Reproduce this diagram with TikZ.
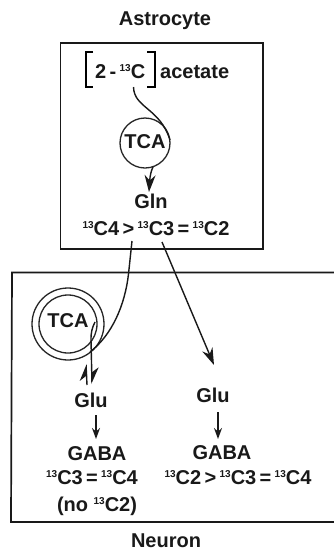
\documentclass[tikz,border=0pt]{standalone}
\usepackage{fontspec}
\setmainfont{Liberation Sans}
\usetikzlibrary{arrows.meta}
\newcommand{\ct}{\raisebox{7pt}{\fontsize{10}{10}\selectfont 13}C}
\tikzset{
  lbl/.style={inner sep=0pt,anchor=base,font=\bfseries\fontsize{20}{22}\selectfont,text=black!90},
  cellbox/.style={draw=black!90,line width=1.7pt},
  ring/.style={draw=black!85,line width=1.3pt,circle,inner sep=0pt},
  flow/.style={draw=black!90,line width=1.4pt},
  tip/.style={-{Stealth[length=17pt,width=11pt]}},
  tipsmall/.style={-{Stealth[length=11pt,width=8pt]}},
  harp/.style={-{Stealth[length=15pt,width=14pt,harpoon]}}
}
\begin{document}
\begin{tikzpicture}[x=1pt,y=-1pt]
\useasboundingbox (0,0) rectangle (334,550);
\fill[white] (0,0) rectangle (334,550);
\draw[cellbox] (60.5,43) rectangle (263,249);
\draw[cellbox] (334,272.5) -- (12,272.5) -- (11,522) -- (334,522);
\node[lbl] (astro) at (165,25) {Astrocyte};
\node[lbl] (neuron) at (166,547) {Neuron};
\node[lbl,anchor=base west] (acet) at (95,78) {2\,-\,\ct};
\node[lbl,anchor=base west] (acetw) at (160,78) {acetate};
\draw[line width=1.3pt] (93,52) -- (86,52) -- (86,87) -- (93,87);
\draw[line width=1.3pt] (147,52) -- (155,52) -- (155,87) -- (147,87);
\node[ring,minimum size=50pt] (tca1) at (145,143) {};
\node[lbl] (tcat1) at (145,148) {TCA};
\node[lbl] (gln) at (151,208) {Gln};
\node[lbl] (ratio1) at (156,235) {\ct4\,>\,\ct3\,=\,\ct2};
\coordinate (s1) at (133.5,87);
\coordinate (e1) at (170,140);
\draw[flow] (s1) .. controls (134,108) and (160,108) .. (e1);
\coordinate (s2) at (153,167);
\coordinate (e2) at (149,192);
\draw[flow,tip] (s2) .. controls (151,171) and (150,176) .. (e2);
\node[ring,minimum size=72pt] (tca2a) at (68,324) {};
\node[ring,minimum size=58pt] (tca2b) at (68,324) {};
\node[lbl] (tcat2) at (68,327) {TCA};
\coordinate (s3) at (132,241);
\coordinate (e3) at (90,352);
\draw[flow] (s3) -- (128.5,274) .. controls (125,305) and (112,335) .. (e3);
\coordinate (s4) at (162,242);
\coordinate (e4) at (214,365);
\draw[flow,tip] (s4) -- (e4);
\coordinate (s5) at (95,322);
\coordinate (m5) at (91,340);
\coordinate (e5) at (92,384);
\draw[flow] (s5) .. controls (92,328) and (91,332) .. (m5);
\draw[flow,harp] (m5) -- (e5);
\coordinate (s6) at (87,385);
\coordinate (e6) at (86,364);
\draw[flow,harp] (s6) -- (e6);
\node[lbl] (glu1) at (91,407) {Glu};
\node[lbl] (glu2) at (213,402) {Glu};
\draw[flow,tipsmall] (96,415) -- (96,439);
\draw[flow,tipsmall] (218,412) -- (218,439);
\node[lbl] (gaba1) at (97,460) {GABA};
\node[lbl] (gaba2) at (222,459) {GABA};
\node[lbl] (r2) at (92,484) {\ct3\,=\,\ct4};
\node[lbl] (r3) at (238,484) {\ct2\,>\,\ct3\,=\,\ct4};
\node[lbl] (r4) at (97,511) {(no \ct2)};
\end{tikzpicture}
\end{document}
